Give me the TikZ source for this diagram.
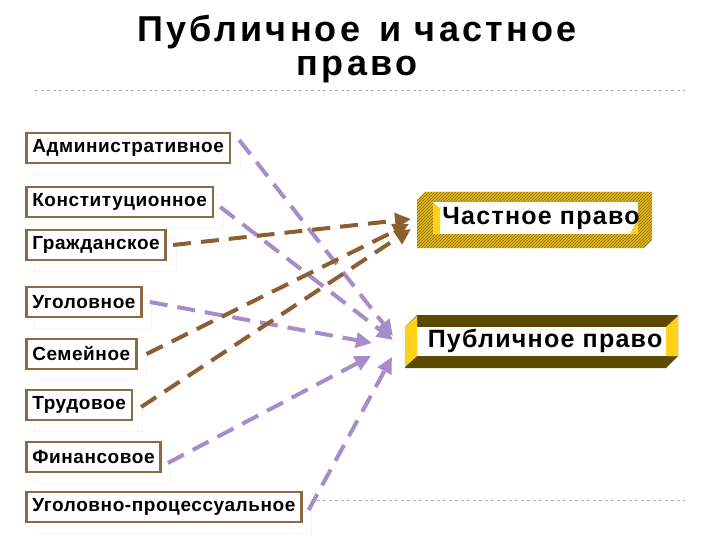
\documentclass[tikz,border=0pt]{standalone}
\usepackage{fontspec}
\setmainfont{Liberation Sans}
\newfontfamily\branchfont{Liberation Sans}[LetterSpace=3]
\newfontfamily\titlefont{Liberation Sans}[LetterSpace=9]
\newfontfamily\kindfont{Liberation Sans}[LetterSpace=5]
\usepackage{xcolor}
\usepackage{tikz}
\usetikzlibrary{arrows.meta,positioning,calc,patterns}

\definecolor{boxbrown}{HTML}{8B6A45}
\definecolor{lilac}{HTML}{A68CC8}
\definecolor{arrowbrown}{HTML}{8C5E30}
\definecolor{gold}{HTML}{E8B80C}
\definecolor{goldlight}{HTML}{FFD21A}
\definecolor{darkolive}{HTML}{5C4A00}

\begin{document}
\begin{tikzpicture}[x=1pt, y=-1pt, >=Latex,
    every node/.style={font=\bfseries},
    branch/.style={draw=boxbrown, line width=2.6pt, fill=white, inner xsep=6pt,
        minimum height=30pt, font=\branchfont\bfseries\fontsize{19}{20}\selectfont, anchor=west},
    shadowbox/.style={draw=gray!7, line width=1pt},
    pubarrow/.style={->, draw=lilac, line width=4pt, dash pattern=on 18pt off 10pt,
        -{Triangle[length=16pt,width=15pt]}},
    privarrow/.style={->, draw=arrowbrown, line width=4pt, dash pattern=on 18pt off 10pt,
        -{Triangle[length=16pt,width=15pt]}},
    kind/.style={font=\kindfont\bfseries\fontsize{25}{26}\selectfont},
    sepline/.style={draw=gray!60, dashed, line width=0.6pt}]
    \useasboundingbox (0,0) rectangle (720,540);

    % title
    \node[align=center, font=\titlefont\bfseries\fontsize{36}{34}\selectfont] (title) at (357,49)
        {Публичное \,и частное\\право};
    \draw[sepline] (35,90) -- (685,90);
    \draw[sepline] (35,500) -- (685,500);

    % branches of law
    \foreach \n/\y/\t in {adm/148/Административное, kon/202/Конституционное,
        grazh/245/Гражданское, ugol/302/Уголовное, sem/354/Семейное,
        trud/405/Трудовое, fin/457/Финансовое, upk/507/Уголовно-процессуальное} {
        \node[branch] (\n) at (25,\y) {\t};
        \draw[shadowbox] ([shift={(9pt,-10pt)}]\n.north west) rectangle ([shift={(9pt,-10pt)}]\n.south east);
        \node[branch] at (25,\y) {\t};
    }

    % private law box
    \fill[gold] (425,192) -- (652,192) -- (652,240) -- (644,248) -- (417,248) -- (417,200) -- cycle;
    \fill[pattern=north east lines, pattern color=darkolive!80] (425,192) -- (652,192) -- (652,240) -- (644,248) -- (417,248) -- (417,200) -- cycle;
    \fill[white] (433,202) rectangle (638,234);
    \fill[goldlight] (433,202) -- (440,208) -- (440,234) -- (433,234) -- cycle;
    \fill[goldlight] (638,218) -- (638,234) -- (630,234) -- cycle;
    \node[kind] (priv) at (541,218) {Частное право};

    % public law box
    \fill[darkolive] (417,315) -- (678,315) -- (678,356) -- (666,368) -- (405,368) -- (405,327) -- cycle;
    \fill[white] (416,327) rectangle (666,356);
    \fill[goldlight] (405,327) -- (417,316) -- (417,356) -- (405,367) -- cycle;
    \fill[goldlight] (666,327) -- (678,316) -- (678,356) -- (666,356) -- cycle;
    \node[kind] (pub) at (545,341) {Публичное право};

    % arrow targets
    \coordinate (pubA) at (393,336);
    \coordinate (pubB) at (393,340);
    \coordinate (pubC) at (372,343);
    \coordinate (pubD) at (371,356);
    \coordinate (pubE) at (392,357);
    \coordinate (privA) at (411,219);
    \coordinate (privB) at (409,224);
    \coordinate (privC) at (411,229);

    % connections
    \draw[pubarrow] ([shift={(8pt,8pt)}]adm.east) -- (pubA);
    \draw[pubarrow] ([shift={(6pt,-5pt)}]kon.east) -- (pubB);
    \draw[privarrow] ([xshift=6pt]grazh.east) -- (privA);
    \draw[pubarrow] ([xshift=7pt]ugol.east) -- (pubC);
    \draw[privarrow] ([xshift=9pt]sem.east) -- (privB);
    \draw[privarrow] ([xshift=8pt,yshift=-2pt]trud.east) -- (privC);
    \draw[pubarrow] ([shift={(6pt,-6pt)}]fin.east) -- (pubD);
    \draw[pubarrow] ([shift={(6pt,-3pt)}]upk.east) -- (pubE);
\end{tikzpicture}
\end{document}
